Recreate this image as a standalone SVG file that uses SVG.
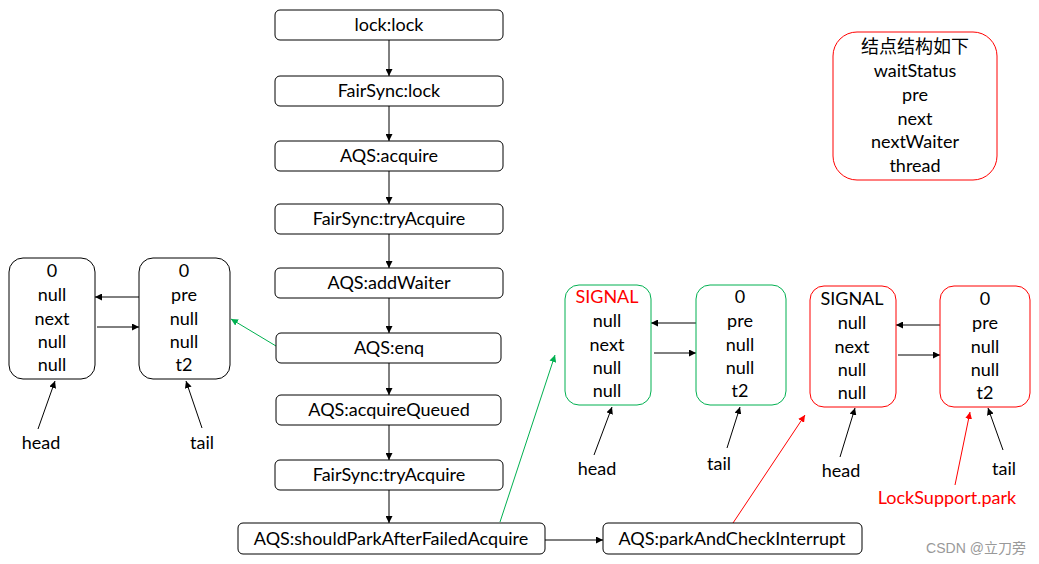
<svg xmlns="http://www.w3.org/2000/svg" width="1039" height="564" viewBox="0 0 1039 564">
<style>
text{font-family:Lato,"Liberation Sans","Noto Sans CJK SC",sans-serif;font-size:18px;fill:#000;text-anchor:middle;dominant-baseline:central}
.box{fill:#fff;stroke:#000;stroke-width:1}
.nb{fill:#fff;stroke:#000;stroke-width:1}
.ng{fill:#fff;stroke:#00b050;stroke-width:1}
.nr{fill:#fff;stroke:#ff0000;stroke-width:1}
.red{fill:#ff0000}
.c{stroke:#000;stroke-width:1;fill:none;marker-end:url(#ab)}
.cg{stroke:#00b050;stroke-width:1;fill:none;marker-end:url(#ag)}
.cr{stroke:#ff0000;stroke-width:1;fill:none;marker-end:url(#ar)}
.wm{font-family:"Liberation Sans","Noto Sans CJK SC",sans-serif;font-size:14px;fill:#999}
</style>
<defs>
<marker id="ab" viewBox="0 0 10 10" refX="10" refY="5" markerWidth="7" markerHeight="7" orient="auto" markerUnits="userSpaceOnUse"><path d="M0,0L10,5L0,10z" fill="#000"/></marker>
<marker id="ag" viewBox="0 0 10 10" refX="10" refY="5" markerWidth="7" markerHeight="7" orient="auto" markerUnits="userSpaceOnUse"><path d="M0,0L10,5L0,10z" fill="#00b050"/></marker>
<marker id="ar" viewBox="0 0 10 10" refX="10" refY="5" markerWidth="7" markerHeight="7" orient="auto" markerUnits="userSpaceOnUse"><path d="M0,0L10,5L0,10z" fill="#ff0000"/></marker>
</defs>
<rect width="1039" height="564" fill="#fff"/>
<g id="connectors">
<line class="c" x1="389" y1="40" x2="389" y2="76"/>
<line class="c" x1="389" y1="106" x2="389" y2="141"/>
<line class="c" x1="389" y1="171" x2="389" y2="204"/>
<line class="c" x1="389" y1="234" x2="389" y2="268"/>
<line class="c" x1="389" y1="298" x2="389" y2="333"/>
<line class="c" x1="389" y1="363" x2="389" y2="395"/>
<line class="c" x1="389" y1="425" x2="389" y2="460"/>
<line class="c" x1="389" y1="490" x2="389" y2="523"/>
<line class="c" x1="545" y1="540" x2="603" y2="540"/>
<line class="cg" x1="276" y1="346" x2="231" y2="319"/>
<line class="cg" x1="500" y1="522" x2="555" y2="355"/>
<line class="cr" x1="733" y1="523" x2="805" y2="415"/>
<line class="cr" x1="955" y1="485" x2="970" y2="412"/>
<line class="c" x1="139" y1="297" x2="95" y2="297"/>
<line class="c" x1="97" y1="327" x2="139" y2="327"/>
<line class="c" x1="38" y1="429" x2="55" y2="381"/>
<line class="c" x1="202" y1="428" x2="186" y2="381"/>
<line class="c" x1="696" y1="323" x2="651" y2="323"/>
<line class="c" x1="654" y1="353" x2="696" y2="353"/>
<line class="c" x1="594" y1="455" x2="612" y2="407"/>
<line class="c" x1="727" y1="448" x2="740" y2="407"/>
<line class="c" x1="940" y1="325" x2="896" y2="325"/>
<line class="c" x1="898" y1="355" x2="940" y2="355"/>
<line class="c" x1="840" y1="457" x2="855" y2="408"/>
<line class="c" x1="1003" y1="450" x2="988" y2="408"/>
</g>
<g id="n1"><rect class="box" x="275" y="10" width="228" height="30" rx="5"/><text x="389" y="24">lock:lock</text></g>
<g id="n2"><rect class="box" x="275" y="76" width="228" height="30" rx="5"/><text x="389" y="90">FairSync:lock</text></g>
<g id="n3"><rect class="box" x="275" y="141" width="228" height="30" rx="5"/><text x="389" y="155">AQS:acquire</text></g>
<g id="n4"><rect class="box" x="275" y="204" width="228" height="30" rx="5"/><text x="389" y="218">FairSync:tryAcquire</text></g>
<g id="n5"><rect class="box" x="275" y="268" width="228" height="30" rx="5"/><text x="389" y="282">AQS:addWaiter</text></g>
<g id="n6"><rect class="box" x="276" y="333" width="225" height="30" rx="5"/><text x="389" y="347">AQS:enq</text></g>
<g id="n7"><rect class="box" x="276" y="395" width="225" height="30" rx="5"/><text x="389" y="409">AQS:acquireQueued</text></g>
<g id="n8"><rect class="box" x="275" y="460" width="228" height="30" rx="5"/><text x="389" y="474">FairSync:tryAcquire</text></g>
<g id="n9"><rect class="box" x="238" y="523" width="307" height="31" rx="5"/><text x="391" y="538">AQS:shouldParkAfterFailedAcquire</text></g>
<g id="n10"><rect class="box" x="603" y="523" width="259" height="31" rx="5"/><text x="732" y="538">AQS:parkAndCheckInterrupt</text></g>
<g id="legend"><rect class="nr" x="833" y="32" width="164" height="148" rx="24"/>
<text x="915" y="46">结点结构如下</text><text x="915" y="70">waitStatus</text><text x="915" y="94">pre</text><text x="915" y="118">next</text><text x="915" y="141">nextWaiter</text><text x="915" y="165">thread</text></g>
<g id="a1"><rect class="nb" x="9" y="258" width="86" height="121" rx="14"/>
<text x="52" y="270">0</text><text x="52" y="294">null</text><text x="52" y="318">next</text><text x="52" y="341">null</text><text x="52" y="364">null</text></g>
<g id="a2"><rect class="nb" x="139" y="258" width="91" height="121" rx="14"/>
<text x="184" y="270">0</text><text x="184" y="294">pre</text><text x="184" y="318">null</text><text x="184" y="341">null</text><text x="184" y="364">t2</text></g>
<g id="ahead"><text x="41" y="442">head</text></g>
<g id="atail"><text x="202" y="442">tail</text></g>
<g id="g1"><rect class="ng" x="565" y="285" width="86" height="120" rx="14"/>
<text x="607" y="296" class="red">SIGNAL</text><text x="607" y="320">null</text><text x="607" y="344">next</text><text x="607" y="367">null</text><text x="607" y="390">null</text></g>
<g id="g2"><rect class="ng" x="696" y="285" width="90" height="120" rx="14"/>
<text x="740" y="296">0</text><text x="740" y="320">pre</text><text x="740" y="344">null</text><text x="740" y="367">null</text><text x="740" y="390">t2</text></g>
<g id="ghead"><text x="597" y="468">head</text></g>
<g id="gtail"><text x="719" y="463">tail</text></g>
<g id="r1"><rect class="nr" x="810" y="286" width="86" height="121" rx="14"/>
<text x="852" y="298">SIGNAL</text><text x="852" y="322">null</text><text x="852" y="346">next</text><text x="852" y="369">null</text><text x="852" y="392">null</text></g>
<g id="r2"><rect class="nr" x="940" y="286" width="90" height="121" rx="14"/>
<text x="985" y="298">0</text><text x="985" y="322">pre</text><text x="985" y="346">null</text><text x="985" y="369">null</text><text x="985" y="392">t2</text></g>
<g id="rhead"><text x="841" y="470">head</text></g>
<g id="rtail"><text x="1004" y="468">tail</text></g>
<g id="park"><text x="947" y="497" class="red">LockSupport.park</text></g>
<text class="wm" x="976" y="548">CSDN @立刀旁</text>
</svg>
